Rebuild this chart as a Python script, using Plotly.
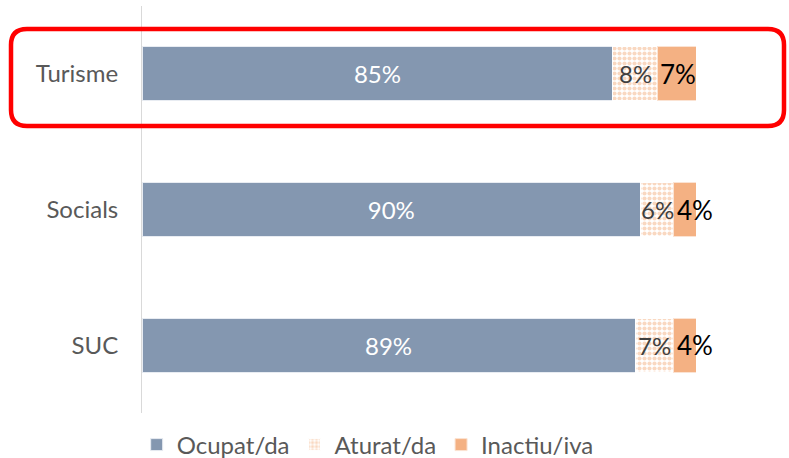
import plotly.graph_objects as go

categories = ["Turisme", "Socials", "SUC"]
ocupat = [85, 90, 89]
aturat = [8, 6, 7]
inactiu = [7, 4, 4]
series_names = ["Ocupat/da", "Aturat/da", "Inactiu/iva"]

W, H = 789, 458
L, R, T, B = 142, 93, 6, 45
pw, ph = W - L - R, H - T - B

def px_x(x):
    return (x - L) / pw

def px_y(y):
    return (H - B - y) / ph

FONT = "Lato, 'Open Sans', sans-serif"

fig = go.Figure()
fig.add_trace(go.Bar(
    y=categories, x=ocupat, orientation="h", name=series_names[0],
    marker=dict(color="#8497B0", line=dict(color="#E8ECF2", width=1)),
    text=[f"{v}%" for v in ocupat], textposition="inside", insidetextanchor="middle",
    textangle=0, constraintext="none", textfont=dict(color="white", size=24, family=FONT),
    hoverinfo="skip",
))
fig.add_trace(go.Bar(
    y=categories, x=aturat, orientation="h", name=series_names[1],
    marker=dict(color="white", line=dict(color="white", width=1),
                pattern=dict(shape=".", fgcolor="#F4B183", bgcolor="white", size=5, solidity=0.55)),
    textposition="none", hoverinfo="skip",
))
fig.add_trace(go.Bar(
    y=categories, x=inactiu, orientation="h", name=series_names[2],
    marker=dict(color="#F4B183", line=dict(color="#FBE3D3", width=1)),
    textposition="none", hoverinfo="skip",
))

# labels for the narrow segments
for cat, o, a, i in zip(categories, ocupat, aturat, inactiu):
    fig.add_annotation(x=o + a / 2, y=cat, xref="x", yref="y", text=f"{a}%", showarrow=False,
                       xanchor="center", yanchor="middle",
                       font=dict(color="#404040", size=24, family=FONT))
    fig.add_annotation(x=o + a, y=cat, xref="x", yref="y", text=f"{i}%", showarrow=False,
                       xanchor="left", yanchor="middle", xshift=1,
                       font=dict(color="black", size=26, family=FONT))

# red highlight rounded rectangle
x0, x1, y0, y1, r = px_x(11), px_x(784), px_y(29), px_y(126), 16
rx = r / pw
ry = r / ph
path = (f"M {x0+rx},{y0} L {x1-rx},{y0} Q {x1},{y0} {x1},{y0-ry} "
        f"L {x1},{y1+ry} Q {x1},{y1} {x1-rx},{y1} "
        f"L {x0+rx},{y1} Q {x0},{y1} {x0},{y1+ry} "
        f"L {x0},{y0-ry} Q {x0},{y0} {x0+rx},{y0} Z")
fig.add_shape(type="path", path=path, xref="paper", yref="paper",
              line=dict(color="#FF0000", width=4.5), fillcolor="rgba(0,0,0,0)", layer="above")

fig.update_layout(
    width=W, height=H,
    margin=dict(l=L, r=R, t=T, b=B),
    barmode="stack", bargap=0.6,
    plot_bgcolor="white", paper_bgcolor="white",
    font=dict(family=FONT, color="#595959", size=24),
    xaxis=dict(range=[0, 100], visible=False, fixedrange=True),
    yaxis=dict(autorange=False, range=[2.5, -0.5], showline=True, linecolor="#D9D9D9", linewidth=1,
               showgrid=False, ticks="", ticklabelstandoff=18, tickfont=dict(size=24, color="#595959"),
               zeroline=False),
    legend=dict(orientation="h", xref="container", x=0.466, xanchor="center",
                yref="container", y=13 / H, yanchor="middle",
                font=dict(size=24, color="#595959"), itemwidth=30, traceorder="normal"),
    showlegend=True,
)

fig.write_html("out.html")
